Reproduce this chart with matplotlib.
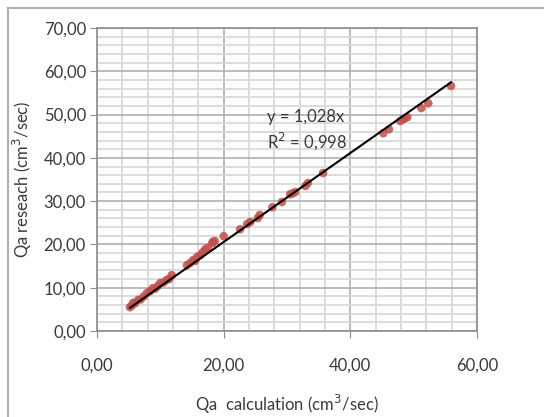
import numpy as np
import matplotlib.pyplot as plt
from matplotlib.lines import Line2D
from matplotlib.ticker import MultipleLocator, FuncFormatter

# measured points (calculation vs research)
qa_calc = [5.2, 5.5, 5.7, 6.0, 6.5, 6.9, 7.4, 7.9, 8.4, 8.8, 9.2, 9.6, 10.0, 10.5,
           11.0, 11.4, 11.8, 14.2, 14.7, 15.2, 15.5, 15.8, 16.3, 16.7, 17.1, 17.5,
           18.2, 18.3, 18.6, 20.0, 22.6, 23.7, 24.2, 25.4, 25.7, 27.7, 29.2, 30.5,
           30.9, 31.3, 32.9, 33.3, 35.7, 45.2, 46.1, 47.9, 48.3, 48.7, 49.0, 51.2,
           52.3, 55.9]
qa_research = [5.5, 5.9, 6.5, 6.4, 7.2, 7.3, 8.0, 8.8, 9.2, 9.9, 9.8, 10.4, 11.1, 11.2,
               11.8, 12.0, 12.9, 15.2, 15.7, 16.4, 16.2, 17.1, 17.5, 18.2, 18.9, 19.2,
               20.3, 20.6, 20.8, 21.9, 23.5, 24.7, 25.2, 26.1, 26.8, 28.6, 29.8, 31.6,
               31.8, 32.1, 33.5, 34.2, 36.5, 45.7, 46.6, 48.5, 48.9, 49.2, 49.4, 51.5,
               52.6, 56.6]
slope = 1.028
eq_label = "y = 1,028x"
r2_label = "R$^2$ = 0,998"

plt.rcParams['font.family'] = ['Lato', 'DejaVu Sans']
txt = '#3a3a3a'

fig = plt.figure(figsize=(5.44, 4.17), dpi=100)
ax = fig.add_axes([97 / 544, 1 - 331 / 417, 380 / 544, 303 / 417])

ax.scatter(qa_calc, qa_research, s=38, color='#c0504d', alpha=0.85, edgecolors='none', zorder=3)
xs = np.array([min(qa_calc), max(qa_calc)])
ax.plot(xs, slope * xs, color='black', lw=1.5, zorder=4)

ax.set_xlim(0, 60)
ax.set_ylim(0, 70)
ax.xaxis.set_major_locator(MultipleLocator(20))
ax.xaxis.set_minor_locator(MultipleLocator(4))
ax.yaxis.set_major_locator(MultipleLocator(10))
ax.yaxis.set_minor_locator(MultipleLocator(2))
fmt = FuncFormatter(lambda v, p: f"{v:.2f}".replace('.', ','))
ax.xaxis.set_major_formatter(fmt)
ax.yaxis.set_major_formatter(fmt)

ax.grid(which='minor', color='#d9d9d9', lw=1.3, zorder=0)
ax.grid(which='major', color='#b0b0b0', lw=1.2, zorder=1)
ax.set_axisbelow(True)
for s in ax.spines.values():
    s.set_color('#8c8c8c')
    s.set_linewidth(1.2)

ax.tick_params(which='minor', length=0)
ax.tick_params(axis='x', which='major', length=5, color='#8c8c8c', pad=14, labelsize=12, labelcolor=txt)
ax.tick_params(axis='y', which='major', length=5, color='#8c8c8c', pad=3, labelsize=12, labelcolor=txt)

ax.set_xlabel("Qa  calculation (cm$^3$/sec)", fontsize=12, color=txt, labelpad=14)
ax.set_ylabel("Qa reseach (cm$^3$/sec)", fontsize=12, color=txt, labelpad=7)

ax.text(26.9, 49.5, eq_label, fontsize=12, color=txt, va='center')
ax.text(26.9, 43.8, r2_label, fontsize=12, color=txt, va='center')

# outer chart frame (left and top edges only visible)
fig.add_artist(Line2D([8 / 544, 8 / 544], [0, 1 - 8 / 417], transform=fig.transFigure, color='#b0b0b0', lw=1.5))
fig.add_artist(Line2D([8 / 544, 1], [1 - 8 / 417, 1 - 8 / 417], transform=fig.transFigure, color='#b0b0b0', lw=1.5))

fig.savefig('out.png', dpi=100)
